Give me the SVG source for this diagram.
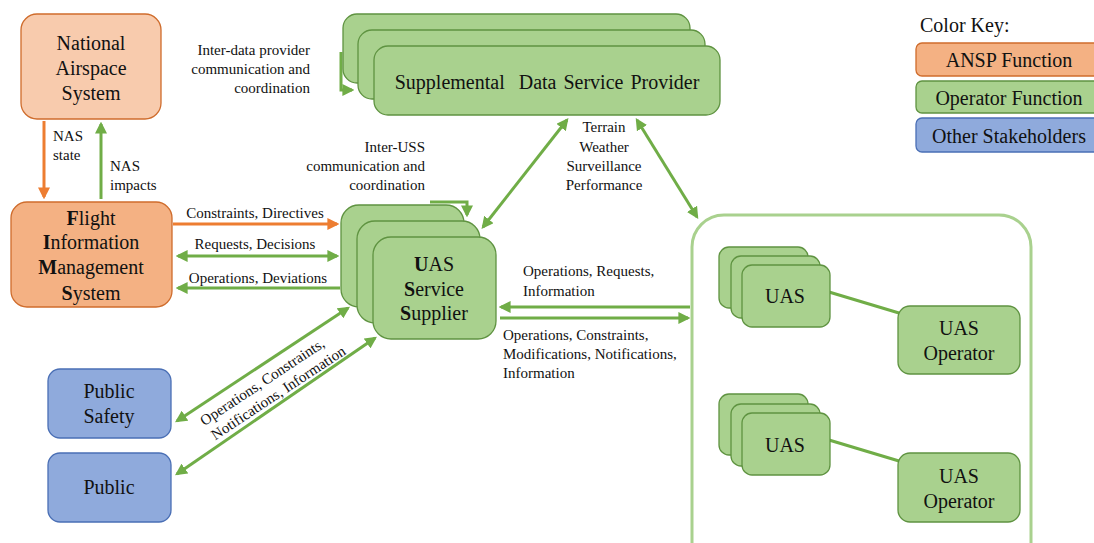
<svg xmlns="http://www.w3.org/2000/svg" width="1094" height="543" viewBox="0 0 1094 543" font-family="'Liberation Serif', 'DejaVu Serif', serif">
  <style>
    text { fill: #111; }
    .n { font-size: 20px; text-anchor: middle; }
    .l { font-size: 15px; }
    .m { text-anchor: middle; }
    .e { text-anchor: end; }
    .orL { fill: #f8cbad; stroke: #cf6c2c; stroke-width: 1.3; }
    .or { fill: #f4b183; stroke: #cf6c2c; stroke-width: 1.3; }
    .gr { fill: #a9d18e; stroke: #5f9341; stroke-width: 1.3; }
    .bl { fill: #8faadc; stroke: #4a6fb5; stroke-width: 1.3; }
    .ga { fill: none; stroke: #70ad47; stroke-width: 3; }
    .oa { fill: none; stroke: #ed7d31; stroke-width: 3; }
  </style>
  <defs>
    <marker id="ag" viewBox="0 0 10 10" refX="8" refY="5" markerWidth="4" markerHeight="4" orient="auto-start-reverse">
      <path d="M0,0 L10,5 L0,10 z" fill="#70ad47"/>
    </marker>
    <marker id="ao" viewBox="0 0 10 10" refX="8" refY="5" markerWidth="4" markerHeight="4" orient="auto-start-reverse">
      <path d="M0,0 L10,5 L0,10 z" fill="#ed7d31"/>
    </marker>
  </defs>

  <rect width="1094" height="543" fill="#fff"/>

  <!-- Operator environment container -->
  <g id="operator-area">
    <rect x="692" y="215" width="339" height="360" rx="32" fill="none" stroke="#a9d18e" stroke-width="3"/>
  </g>

  <!-- connectors -->
  <g id="connectors">
    <path class="oa" d="M44,121 V197" marker-end="url(#ao)"/>
    <path class="ga" d="M101,199 V124" marker-end="url(#ag)"/>
    <path class="oa" d="M173,224 H337" marker-end="url(#ao)"/>
    <path class="ga" d="M178,256 H337" marker-start="url(#ag)" marker-end="url(#ag)"/>
    <path class="ga" d="M340,288 H178" marker-end="url(#ag)"/>
    <path class="ga" d="M341,52 V90 H352" marker-end="url(#ag)"/>
    <path class="ga" d="M430,202 H467 V215" marker-end="url(#ag)"/>
    <path class="ga" d="M483,227 L567,120" marker-start="url(#ag)" marker-end="url(#ag)"/>
    <path class="ga" d="M637,120 L697,217" marker-start="url(#ag)" marker-end="url(#ag)"/>
    <path class="ga" d="M690,307 H501" marker-end="url(#ag)"/>
    <path class="ga" d="M500,318 H688" marker-end="url(#ag)"/>
    <path class="ga" d="M177,421 L348,308" marker-start="url(#ag)" marker-end="url(#ag)"/>
    <path class="ga" d="M177,474 L375,338" marker-start="url(#ag)" marker-end="url(#ag)"/>
    <line x1="829" y1="292" x2="899" y2="313" stroke="#70ad47" stroke-width="3"/>
    <line x1="829" y1="440" x2="899" y2="461" stroke="#70ad47" stroke-width="3"/>
  </g>

  <!-- connector labels -->
  <g id="connector-labels" class="l" xml:space="preserve">
    <text x="53" y="141">NAS</text>
    <text x="53" y="160">state</text>
    <text x="110" y="171">NAS</text>
    <text x="110" y="190">impacts</text>
    <text x="310" y="55" class="e">Inter-data provider</text>
    <text x="310" y="74" class="e">communication  and</text>
    <text x="310" y="93" class="e">coordination</text>
    <text x="425" y="152" class="e">Inter-USS</text>
    <text x="425" y="171" class="e">communication  and</text>
    <text x="425" y="190" class="e">coordination</text>
    <text x="604" y="132" class="m">Terrain</text>
    <text x="604" y="152" class="m">Weather</text>
    <text x="604" y="171" class="m">Surveillance</text>
    <text x="604" y="190" class="m">Performance</text>
    <text x="255" y="218" class="m">Constraints,  Directives</text>
    <text x="255" y="249" class="m">Requests,  Decisions</text>
    <text x="258" y="283" class="m">Operations,  Deviations</text>
    <text x="523" y="276">Operations,  Requests,</text>
    <text x="523" y="296">Information</text>
    <text x="503" y="340">Operations,  Constraints,</text>
    <text x="503" y="359">Modifications,  Notifications,</text>
    <text x="503" y="378">Information</text>
    <text class="m" transform="translate(265,386) rotate(-33.5)">Operations,  Constraints,</text>
    <text class="m" transform="translate(281,397) rotate(-33.5)">Notifications,  Information</text>
  </g>

  <g id="nas">
    <rect class="orL" x="21" y="14" width="140" height="105" rx="16"/>
    <text class="n" x="91" y="50">National</text>
    <text class="n" x="91" y="75">Airspace</text>
    <text class="n" x="91" y="100">System</text>
  </g>

  <g id="fims">
    <rect class="or" x="11" y="202" width="161" height="105" rx="16"/>
    <text class="n" x="91" y="225"><tspan font-weight="bold">F</tspan>light</text>
    <text class="n" x="91" y="249"><tspan font-weight="bold">I</tspan>nformation</text>
    <text class="n" x="91" y="274"><tspan font-weight="bold">M</tspan>anagement</text>
    <text class="n" x="91" y="300"><tspan font-weight="bold">S</tspan>ystem</text>
  </g>

  <g id="sdsp">
    <rect class="gr" x="343" y="14" width="347" height="69" rx="14"/>
    <rect class="gr" x="358" y="30" width="347" height="69" rx="14"/>
    <rect class="gr" x="374" y="46" width="346" height="69" rx="14"/>
    <text class="n" x="547" y="89" xml:space="preserve" word-spacing="2">Supplemental  Data Service Provider</text>
  </g>

  <g id="uss">
    <rect class="gr" x="341" y="205" width="123" height="102" rx="18"/>
    <rect class="gr" x="357" y="221" width="123" height="102" rx="18"/>
    <rect class="gr" x="373" y="237" width="123" height="102" rx="18"/>
    <text class="n" x="434" y="271"><tspan font-weight="bold">U</tspan>AS</text>
    <text class="n" x="434" y="296"><tspan font-weight="bold">S</tspan>ervice</text>
    <text class="n" x="434" y="320"><tspan font-weight="bold">S</tspan>upplier</text>
  </g>

  <g id="public-safety">
    <rect class="bl" x="48" y="369" width="123" height="69" rx="12"/>
    <text class="n" x="109" y="398">Public</text>
    <text class="n" x="109" y="423">Safety</text>
  </g>

  <g id="public">
    <rect class="bl" x="48" y="453" width="123" height="69" rx="12"/>
    <text class="n" x="109" y="494">Public</text>
  </g>

  <g id="uas-1">
    <rect class="gr" x="719" y="247" width="89" height="61" rx="10"/>
    <rect class="gr" x="731" y="256" width="89" height="62" rx="10"/>
    <rect class="gr" x="742" y="265" width="88" height="62" rx="10"/>
    <text class="n" x="785" y="303">UAS</text>
  </g>

  <g id="uas-operator-1">
    <rect class="gr" x="898" y="306" width="122" height="68" rx="12"/>
    <text class="n" x="959" y="335">UAS</text>
    <text class="n" x="959" y="360">Operator</text>
  </g>

  <g id="uas-2">
    <rect class="gr" x="719" y="394" width="89" height="61" rx="10"/>
    <rect class="gr" x="731" y="404" width="89" height="62" rx="10"/>
    <rect class="gr" x="742" y="413" width="88" height="62" rx="10"/>
    <text class="n" x="785" y="452">UAS</text>
  </g>

  <g id="uas-operator-2">
    <rect class="gr" x="898" y="453" width="122" height="69" rx="12"/>
    <text class="n" x="959" y="483">UAS</text>
    <text class="n" x="959" y="508">Operator</text>
  </g>

  <g id="color-key">
    <text x="920" y="32" font-size="20">Color Key:</text>
    <rect class="or" x="916" y="43" width="190" height="33" rx="6"/>
    <text class="n" x="1009" y="67">ANSP Function</text>
    <rect class="gr" x="916" y="81" width="190" height="32" rx="6"/>
    <text class="n" x="1009" y="105">Operator Function</text>
    <rect class="bl" x="916" y="118" width="190" height="34" rx="6"/>
    <text class="n" x="1009" y="143">Other Stakeholders</text>
  </g>
</svg>
